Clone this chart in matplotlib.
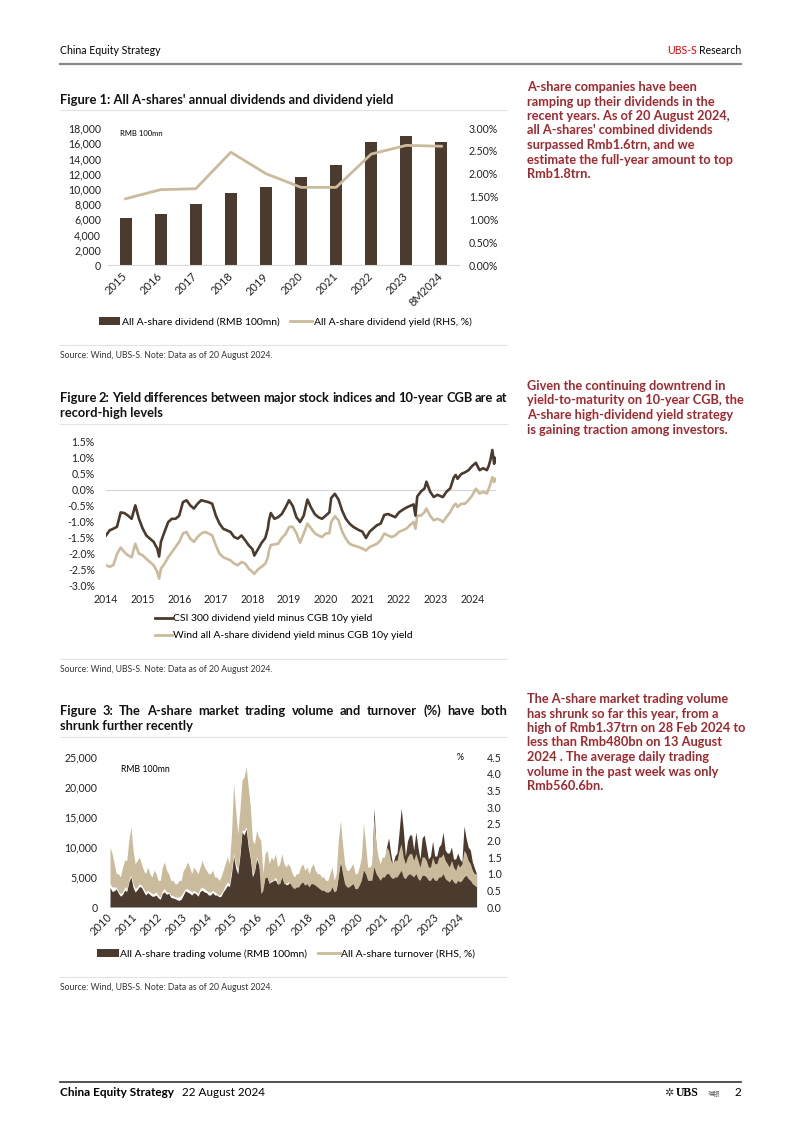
import matplotlib
matplotlib.use('Agg')
import matplotlib.pyplot as plt
from matplotlib.lines import Line2D
from matplotlib.patches import Patch
import numpy as np

W, H = 802, 1134
plt.rcParams['font.family'] = ['Lato', 'DejaVu Sans']

DARK = '#4b3b2e'
TAN = '#cbbb9d'
MAROON = '#a0282e'
SEP = '#e3e3e3'

# ---- Figure 1: annual dividends and dividend yield ----
f1_years = ['2015', '2016', '2017', '2018', '2019', '2020', '2021', '2022', '2023', '8M2024']
f1_dividend = [6200, 6700, 8000, 9500, 10200, 11500, 13200, 16200, 17000, 16100]
f1_yield = [1.45, 1.65, 1.67, 2.47, 2.0, 1.7, 1.7, 2.43, 2.62, 2.6]

# ---- Figure 2: yield spreads vs 10y CGB (decimal years) ----
f2_t = [2014.0, 2014.1, 2014.2, 2014.3, 2014.4, 2014.5, 2014.6, 2014.7, 2014.8, 2014.9,
        2015.0, 2015.1, 2015.2, 2015.3, 2015.4, 2015.45, 2015.5, 2015.6, 2015.7, 2015.8, 2015.9,
        2016.0, 2016.1, 2016.2, 2016.3, 2016.4, 2016.5, 2016.6, 2016.7, 2016.8, 2016.9,
        2017.0, 2017.1, 2017.2, 2017.3, 2017.4, 2017.5, 2017.6, 2017.7, 2017.8, 2017.9,
        2018.0, 2018.05, 2018.15, 2018.25, 2018.35, 2018.42, 2018.45, 2018.5, 2018.6, 2018.7, 2018.8, 2018.9,
        2019.0, 2019.1, 2019.2, 2019.3, 2019.4, 2019.5, 2019.6, 2019.7, 2019.8, 2019.9,
        2020.0, 2020.1, 2020.15, 2020.25, 2020.35, 2020.45, 2020.55, 2020.65, 2020.75, 2020.9,
        2021.0, 2021.1, 2021.2, 2021.3, 2021.4, 2021.5, 2021.6, 2021.7, 2021.8, 2021.9,
        2022.0, 2022.1, 2022.2, 2022.3, 2022.4, 2022.45, 2022.5, 2022.6, 2022.7, 2022.75, 2022.85, 2022.95,
        2023.05, 2023.15, 2023.2, 2023.3, 2023.4, 2023.5, 2023.55, 2023.6, 2023.7, 2023.8, 2023.9,
        2024.0, 2024.1, 2024.2, 2024.3, 2024.4, 2024.45, 2024.5, 2024.55, 2024.6, 2024.63]
f2_csi300 = [-1.42, -1.26, -1.21, -1.15, -0.7, -0.72, -0.8, -0.9, -0.48, -0.9,
             -1.2, -1.42, -1.52, -1.62, -1.83, -2.08, -1.62, -1.3, -1.0, -0.9, -0.9,
             -0.8, -0.38, -0.32, -0.48, -0.58, -0.43, -0.32, -0.35, -0.38, -0.43,
             -0.8, -1.05, -1.21, -1.26, -1.31, -1.47, -1.52, -1.42, -1.57, -1.73,
             -1.85, -2.05, -1.85, -1.65, -1.5, -1.2, -0.95, -0.72, -0.9, -0.85, -0.75, -0.55,
             -0.32, -0.5, -0.85, -1.0, -0.8, -0.3, -0.55, -0.75, -0.85, -0.9,
             -0.8, -0.7, -0.25, -0.12, -0.3, -0.65, -0.9, -1.05, -1.15, -1.25,
             -1.3, -1.5, -1.3, -1.2, -1.1, -1.05, -0.78, -0.75, -0.8, -0.85,
             -0.7, -0.62, -0.55, -0.5, -0.45, -0.8, -0.2, -0.05, 0.05, 0.26, -0.05, -0.22,
             -0.15, -0.2, -0.22, -0.05, 0.05, 0.4, 0.47, 0.35, 0.5, 0.55, 0.62,
             0.75, 0.85, 0.62, 0.68, 0.62, 0.75, 0.95, 1.25, 0.82, 1.0]
f2_wind_all = [-2.35, -2.4, -2.35, -2.0, -1.8, -1.94, -2.04, -2.1, -1.68, -1.99,
               -2.04, -2.15, -2.25, -2.35, -2.56, -2.77, -2.46, -2.3, -2.1, -1.94, -1.78,
               -1.62, -1.36, -1.31, -1.52, -1.62, -1.47, -1.36, -1.31, -1.36, -1.42,
               -1.73, -1.99, -2.1, -2.15, -2.2, -2.3, -2.35, -2.25, -2.3, -2.46,
               -2.56, -2.62, -2.48, -2.4, -2.3, -2.1, -1.9, -1.72, -1.7, -1.68, -1.5, -1.38,
               -1.16, -1.15, -1.35, -1.65, -1.36, -1.05, -1.2, -1.35, -1.42, -1.47,
               -1.36, -1.35, -1.0, -0.82, -0.95, -1.3, -1.52, -1.68, -1.73, -1.78,
               -1.83, -1.89, -1.78, -1.73, -1.68, -1.57, -1.36, -1.42, -1.47, -1.42,
               -1.31, -1.26, -1.21, -1.1, -1.0, -1.21, -0.8, -0.8, -0.69, -0.58, -0.8, -0.95,
               -0.9, -0.95, -1.0, -0.84, -0.69, -0.48, -0.43, -0.53, -0.43, -0.43, -0.32,
               -0.17, 0.04, -0.11, -0.06, -0.11, 0.04, 0.2, 0.4, 0.25, 0.35]

# ---- Figure 3: monthly trading volume and turnover, Jan 2010 - Aug 2024 ----
f3_start = 2010
f3_volume = [3300, 2600, 2700, 3000, 2300, 1800, 2100, 2800, 2600, 4200, 5000, 3300,   # 2010
             2500, 2900, 3400, 3300, 2600, 2000, 2400, 2100, 1800, 1800, 2000, 1500,   # 2011
             1300, 2300, 2500, 2100, 2300, 1600, 1500, 1400, 1200, 1100, 1300, 2000,   # 2012
             2700, 2500, 2300, 2000, 2400, 2200, 1800, 2600, 2800, 2500, 2400, 2000,   # 2013
             2000, 2400, 2000, 2000, 1700, 1800, 2500, 3000, 3600, 3400, 5500, 8500,   # 2014
             6500, 5500, 8500, 12500, 12000, 13000, 10000, 8000, 5000, 6000, 8000, 7000,  # 2015
             5000, 3500, 5000, 5000, 4000, 4200, 4400, 4500, 3800, 4000, 5200, 4200,   # 2016
             3700, 3800, 4200, 3800, 3300, 3500, 3800, 4200, 4500, 4000, 4500, 3800,   # 2017
             4500, 3800, 4200, 3700, 3800, 3500, 3000, 2900, 2500, 2700, 3500, 2700,   # 2018
             3000, 5500, 7500, 6000, 4200, 3800, 3700, 3900, 4800, 3500, 3800, 4700,   # 2019
             5500, 7500, 6500, 4800, 4900, 5300, 16500, 10000, 7000, 6000, 7000, 6800,  # 2020
             10000, 11500, 9000, 7000, 8500, 9000, 12500, 16500, 13000, 8500, 11000, 12000,  # 2021
             12000, 9500, 12500, 10000, 8000, 11500, 12000, 10000, 8000, 8500, 11000, 8500,  # 2022
             8500, 10000, 10500, 12500, 9500, 9000, 9000, 10000, 8000, 8000, 9000, 8000,    # 2023
             7500, 13500, 11500, 10000, 9500, 7500, 6500, 5500]                             # 2024
f3_turn_hi = [1.8, 1.6, 1.3, 1.0, 1.0, 0.9, 1.2, 1.4, 1.4, 2.0, 2.4, 1.7,
              1.3, 1.4, 1.5, 1.3, 1.1, 1.0, 1.2, 1.0, 0.9, 1.1, 1.0, 0.8,
              0.8, 1.2, 1.35, 1.1, 1.0, 0.8, 0.8, 0.7, 0.7, 0.8, 0.8, 1.1,
              1.2, 1.35, 1.2, 1.0, 1.2, 1.1, 1.0, 1.2, 1.4, 1.2, 1.1, 1.0,
              1.0, 1.1, 0.9, 0.9, 0.8, 0.9, 1.1, 1.3, 1.5, 1.3, 2.2, 3.7,
              2.9, 2.2, 2.9, 3.8, 3.9, 4.2, 3.6, 3.0, 2.0, 1.9, 2.3, 2.1,
              2.0, 1.0, 1.6, 1.7, 1.3, 1.5, 1.4, 1.6, 1.2, 1.3, 1.6, 1.3,
              1.2, 1.3, 1.2, 1.0, 0.9, 1.0, 1.0, 1.2, 1.3, 1.1, 1.2, 1.0,
              1.2, 1.3, 1.1, 1.0, 1.0, 0.9, 0.9, 0.8, 0.8, 1.0, 1.2, 0.8,
              1.0, 2.0, 2.6, 1.9, 1.3, 1.1, 1.1, 1.2, 1.3, 1.0, 1.0, 1.2,
              1.5, 2.5, 1.9, 1.2, 1.2, 1.3, 2.7, 1.9, 1.5, 1.3, 1.5, 1.5,
              1.8, 1.7, 1.4, 1.3, 1.4, 1.4, 1.7, 1.9, 1.5, 1.3, 1.5, 1.6,
              1.6, 1.4, 1.6, 1.4, 1.2, 1.5, 1.5, 1.4, 1.2, 1.2, 1.5, 1.3,
              1.3, 1.5, 1.5, 1.6, 1.4, 1.3, 1.2, 1.4, 1.2, 1.1, 1.3, 1.2,
              1.3, 1.7, 1.6, 1.4, 1.3, 1.1, 1.0, 1.0]
f3_turn_lo = [0.7, 0.6, 0.6, 0.6, 0.45, 0.4, 0.45, 0.6, 0.55, 0.8, 0.95, 0.7,
              0.55, 0.6, 0.7, 0.65, 0.55, 0.45, 0.5, 0.45, 0.4, 0.4, 0.45, 0.35,
              0.3, 0.5, 0.55, 0.45, 0.45, 0.35, 0.35, 0.3, 0.3, 0.3, 0.35, 0.45,
              0.55, 0.55, 0.5, 0.45, 0.5, 0.45, 0.4, 0.55, 0.6, 0.55, 0.5, 0.45,
              0.45, 0.5, 0.45, 0.4, 0.35, 0.4, 0.5, 0.65, 0.75, 0.7, 1.1, 1.6,
              1.3, 1.1, 1.6, 2.3, 2.3, 2.4, 1.9, 1.5, 1.0, 1.1, 1.5, 1.3,
              0.4, 0.5, 0.9, 0.9, 0.7, 0.8, 0.8, 0.9, 0.7, 0.7, 0.9, 0.7,
              0.7, 0.75, 0.7, 0.6, 0.55, 0.6, 0.6, 0.7, 0.75, 0.65, 0.7, 0.6,
              0.7, 0.7, 0.65, 0.6, 0.55, 0.5, 0.5, 0.45, 0.45, 0.5, 0.6, 0.45,
              0.5, 0.9, 1.4, 1.0, 0.7, 0.6, 0.6, 0.65, 0.7, 0.55, 0.55, 0.65,
              0.8, 1.1, 1.0, 0.8, 0.8, 0.8, 1.2, 1.0, 0.9, 0.8, 0.9, 0.9,
              1.0, 1.0, 0.9, 0.85, 0.9, 0.9, 1.0, 1.1, 0.9, 0.85, 0.95, 1.0,
              0.95, 0.9, 1.0, 0.85, 0.8, 0.95, 0.95, 0.9, 0.8, 0.8, 0.9, 0.8,
              0.8, 0.9, 0.9, 1.0, 0.85, 0.8, 0.75, 0.85, 0.75, 0.7, 0.8, 0.75,
              0.8, 0.9, 0.95, 0.85, 0.8, 0.7, 0.65, 0.6]
f3_years = list(range(2010, 2025))

fig = plt.figure(figsize=(W / 100, H / 100), dpi=100)
rend = fig.canvas.get_renderer()


def ax_at(l, t, r, b):
    return fig.add_axes([l / W, 1 - b / H, (r - l) / W, (b - t) / H])


def txt(x, y, s, **kw):
    return fig.text(x / W, 1 - y / H, s, **kw)


def hline(y, x0, x1, color, lw):
    fig.add_artist(Line2D([x0 / W, x1 / W], [1 - y / H, 1 - y / H], color=color, lw=lw))


def justify(y, line, x0, x1, **kw):
    # spread words so the line fills x0..x1
    words = line.split()
    ts = [txt(0, y, w, va='center', **kw) for w in words]
    ws = [t.get_window_extent(rend).width for t in ts]
    gap = (x1 - x0 - sum(ws)) / (len(words) - 1)
    x = x0
    for t, w in zip(ts, ws):
        t.set_x(x / W)
        x += w + gap


def clean(ax):
    for s in ax.spines.values():
        s.set_visible(False)
    ax.tick_params(length=0, labelsize=7.6, colors='#222222')


# ---- header / footer ----
hdr = ['Liberation Sans Narrow', 'Lato']
txt(60, 51, 'China Equity Strategy', family=hdr, fontsize=7.6, va='center')
res = txt(741, 51, 'Research', family=hdr, fontsize=7.6, va='center', ha='right')
res_left = 741 - res.get_window_extent(rend).width
txt(res_left - 2, 51, 'UBS-S', family=hdr, fontsize=7.6, va='center', ha='right', color='#e60000')
hline(64, 60, 741, '#8a8a8a', 1.6)

hline(1082, 60, 741, '#333333', 1.2)
txt(60, 1093, 'China Equity Strategy', family=hdr, fontsize=8.5, va='center', weight='bold')
txt(182, 1093, '22 August 2024', family=hdr, fontsize=8.5, va='center')
txt(674, 1093, '✲', family='DejaVu Sans', fontsize=8, va='center', ha='right', color='#333333')
txt(676, 1093, 'UBS', family='Liberation Serif', fontsize=8.5, va='center', weight='bold')
txt(708, 1094, '瑞银', family=['Noto Sans CJK SC', 'DejaVu Sans'], fontsize=4.5, va='center', color='#555555')
txt(741, 1093, '2', family=hdr, fontsize=8.5, va='center', ha='right')

# ---- side notes ----
note_kw = dict(fontsize=9.2, weight='bold', color=MAROON, va='top', linespacing=1.25)
txt(527, 81, "A-share companies have been\nramping up their dividends in the\nrecent years. As of 20 August 2024,\n"
    "all A-shares' combined dividends\nsurpassed Rmb1.6trn, and we\nestimate the full-year amount to top\nRmb1.8trn.", **note_kw)
txt(527, 380, "Given the continuing downtrend in\nyield-to-maturity on 10-year CGB, the\n"
    "A-share high-dividend yield strategy\nis gaining traction among investors.", **note_kw)
txt(527, 693, "The A-share market trading volume\nhas shrunk so far this year, from a\n"
    "high of Rmb1.37trn on 28 Feb 2024 to\nless than Rmb480bn on 13 August\n"
    "2024 . The average daily trading\nvolume in the past week was only\nRmb560.6bn.", **note_kw)

title_kw = dict(fontsize=9.3, weight='bold', color='#111111')
src = 'Source: Wind, UBS-S. Note: Data as of 20 August 2024.'

# ---- Figure 1 ----
txt(60, 100, "Figure 1: All A-shares' annual dividends and dividend yield", va='center', **title_kw)
hline(110, 60, 507, SEP, 0.8)
ax1 = ax_at(108, 128, 459, 265)
x1 = np.arange(len(f1_years))
ax1.bar(x1, f1_dividend, width=0.34, color=DARK)
ax1.set_xlim(-0.5, len(f1_years) - 0.5)
ax1.set_ylim(0, 18000)
ax1.set_yticks(range(0, 18001, 2000))
ax1.set_yticklabels([f'{v:,}' for v in range(0, 18001, 2000)])
ax1.set_xticks(x1)
ax1.set_xticklabels(f1_years, rotation=45, ha='right', va='center', rotation_mode='anchor')
clean(ax1)
ax1.tick_params(axis='x', labelsize=8)
ax1.tick_params(axis='y', pad=5)
ax1.tick_params(axis='x', pad=7)
ax1.spines['bottom'].set_visible(True)
ax1.spines['bottom'].set_color('#d9d9d9')
ax1.text(0.035, 0.985, 'RMB 100mn', transform=ax1.transAxes, fontsize=5.5, va='top')
ax1r = ax1.twinx()
ax1r.plot(x1, f1_yield, color=TAN, lw=2.0)
ax1r.set_ylim(0, 3.0)
ax1r.set_yticks(np.arange(0, 3.01, 0.5))
ax1r.set_yticklabels([f'{v:.2f}%' for v in np.arange(0, 3.01, 0.5)])
clean(ax1r)
ax1r.tick_params(axis='y', pad=7)
fig.legend([Patch(facecolor=DARK), Line2D([], [], color=TAN, lw=2)],
           ['All A-share dividend (RMB 100mn)', 'All A-share dividend yield (RHS, %)'],
           loc='center', bbox_to_anchor=(285 / W, 1 - 322 / H), ncol=2, frameon=False,
           fontsize=7.5, handlelength=2.1, handleheight=0.7, handletextpad=0.15, columnspacing=1.0)
hline(345, 60, 507, SEP, 0.8)
txt(60, 356, src, fontsize=6.2, va='center', color='#333333')

# ---- Figure 2 ----
justify(398, 'Figure 2: Yield differences between major stock indices and 10-year CGB are at', 60, 507, **title_kw)
txt(60, 413, 'record-high levels', va='center', **title_kw)
hline(424, 60, 507, SEP, 0.8)
ax2 = ax_at(106, 442, 496, 586)
ax2.axhline(0, color='#d6d6d6', lw=0.8)
ax2.plot(f2_t, f2_wind_all, color=TAN, lw=1.9)
ax2.plot(f2_t, f2_csi300, color=DARK, lw=1.9)
ax2.set_xlim(2014, 2024.65)
ax2.set_ylim(-3.0, 1.5)
yt2 = np.arange(-3.0, 1.51, 0.5)
ax2.set_yticks(yt2)
ax2.set_yticklabels([f'{v:.1f}%' for v in yt2])
ax2.set_xticks(range(2014, 2025))
clean(ax2)
ax2.tick_params(axis='y', pad=8)
ax2.tick_params(axis='x', pad=6)
fig.legend([Line2D([], [], color=DARK, lw=2), Line2D([], [], color=TAN, lw=2)],
           ['CSI 300 dividend yield minus CGB 10y yield',
            'Wind all A-share dividend yield minus CGB 10y yield'],
           loc='upper left', bbox_to_anchor=(155 / W, 1 - 614 / H), ncol=1, frameon=False,
           fontsize=7.5, handlelength=1.6, handletextpad=0.15, labelspacing=0.75,
           borderpad=0, borderaxespad=0)
hline(659, 60, 507, SEP, 0.8)
txt(60, 670, src, fontsize=6.2, va='center', color='#333333')

# ---- Figure 3 ----
justify(711, 'Figure 3: The A-share market trading volume and turnover (%) have both', 60, 507, **title_kw)
txt(60, 726, 'shrunk further recently', va='center', **title_kw)
hline(737, 60, 507, SEP, 0.8)
ax3 = ax_at(110, 757, 477, 907)
t3 = f3_start + np.arange(len(f3_volume)) / 12
ax3.fill_between(t3, 0, f3_volume, color=DARK, lw=0)
ax3.set_xlim(2010, 2024.6)
ax3.set_ylim(0, 25000)
ax3.set_yticks(range(0, 25001, 5000))
ax3.set_yticklabels([f'{v:,}' for v in range(0, 25001, 5000)])
ax3.set_xticks(f3_years)
ax3.set_xticklabels([str(y) for y in f3_years], rotation=45, ha='right', va='center',
                    rotation_mode='anchor')
clean(ax3)
ax3.tick_params(axis='y', pad=9)
ax3.tick_params(axis='x', pad=6, labelsize=8)
ax3.text(0.03, 0.95, 'RMB 100mn', transform=ax3.transAxes, fontsize=6.3, va='top')
ax3r = ax3.twinx()
ax3r.fill_between(t3, f3_turn_lo, f3_turn_hi, color=TAN, lw=0)
ax3r.set_ylim(0, 4.5)
yt3 = np.arange(0, 4.51, 0.5)
ax3r.set_yticks(yt3)
ax3r.set_yticklabels([f'{v:.1f}' for v in yt3])
clean(ax3r)
ax3r.tick_params(axis='y', pad=7)
ax3r.text(0.945, 1.0, '%', transform=ax3r.transAxes, fontsize=6.3, va='center')
fig.legend([Patch(facecolor=DARK), Line2D([], [], color=TAN, lw=2)],
           ['All A-share trading volume (RMB 100mn)', 'All A-share turnover (RHS, %)'],
           loc='center', bbox_to_anchor=(286 / W, 1 - 954 / H), ncol=2, frameon=False,
           fontsize=7.5, handlelength=2.1, handleheight=0.7, handletextpad=0.15, columnspacing=1.0)
hline(977, 60, 507, SEP, 0.8)
txt(60, 988, src, fontsize=6.2, va='center', color='#333333')

fig.savefig('out.png', dpi=100)
